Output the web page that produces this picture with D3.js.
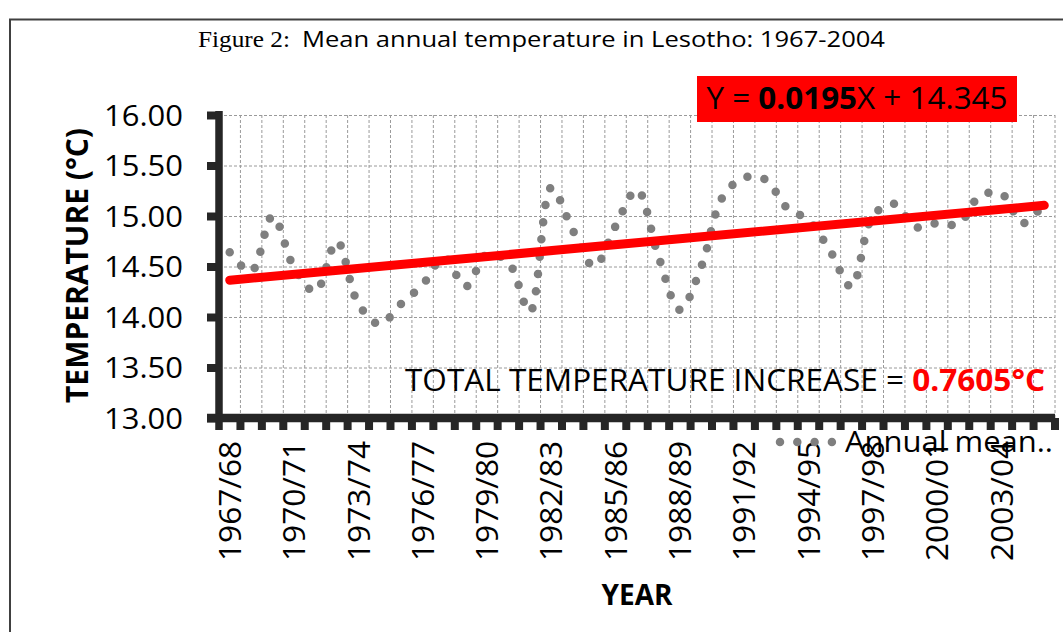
<!DOCTYPE html>
<html>
<head>
  <meta charset="utf-8">
  <title>Mean annual temperature in Lesotho</title>
  <script src="https://cdn.jsdelivr.net/npm/d3@7"></script>
  <style>
    body { margin: 0; background: #fff; }
    svg { display: block; }
  </style>
</head>
<body>
<script>
// size of the picture
var breite = 1063;
var hoehe = 632;

// seasons on the x axis (39 of them)
var years = ["1967/68", "1968/69", "1969/70", "1970/71", "1971/72", "1972/73", "1973/74",
             "1974/75", "1975/76", "1976/77", "1977/78", "1978/79", "1979/80", "1980/81",
             "1981/82", "1982/83", "1983/84", "1984/85", "1985/86", "1986/87", "1987/88",
             "1988/89", "1989/90", "1990/91", "1991/92", "1992/93", "1993/94", "1994/95",
             "1995/96", "1996/97", "1997/98", "1998/99", "1999/00", "2000/01", "2001/02",
             "2002/03", "2003/04", "2004/05", "2005/06"];

// annual mean temperature (°C)
var annualMean = [14.64, 14.45, 15.00, 14.49, 14.25, 14.75, 14.13, 13.93, 14.13, 14.32,
                  14.59, 14.30, 14.62, 14.54, 14.05, 15.28, 14.86, 14.50, 14.90, 15.26,
                  14.60, 14.07, 14.50, 15.19, 15.38, 15.36, 15.08, 14.96, 14.66, 14.30,
                  15.00, 15.12, 14.89, 14.93, 14.92, 15.20, 15.22, 14.93, 15.13];

// only every third season gets a label
var tickLabels = ["1967/68", "1970/71", "1973/74", "1976/77", "1979/80", "1982/83", "1985/86",
                  "1988/89", "1991/92", "1994/95", "1997/98", "2000/01", "2003/04"];

var yTicks = [13, 13.5, 14, 14.5, 15, 15.5, 16];

// linear trend Y = 0.0195X + 14.345 (X = 1 .. 39)
var slope = 0.0195;
var intercept = 14.345;

var sans = "'Open Sans', Lato, sans-serif";
var axisColor = "#262626";

var svg = d3.select("body")
            .append("svg")
            .attr("width", breite)
            .attr("height", hoehe);

// frame around the figure
svg.append("path")
   .attr("d", "M10," + hoehe + "V19.5H" + breite)
   .attr("fill", "none")
   .attr("stroke", "#404040")
   .attr("stroke-width", 2);

// scales
var x = d3.scaleBand().domain(years).range([219, 1055]);
var y = d3.scaleLinear().domain([13, 16]).range([418, 115]);
var mitte = function(d) { return x(d) + x.bandwidth() / 2; };

// dashed grid
var grid = svg.append("g")
              .attr("stroke", "#9a9a9a")
              .attr("stroke-width", 1)
              .attr("stroke-dasharray", "3,2");

grid.selectAll(".h")
    .data(yTicks.slice(1))
    .enter().append("line")
    .attr("x1", x.range()[0]).attr("x2", x.range()[1])
    .attr("y1", function(d) { return y(d) + 0.5; })
    .attr("y2", function(d) { return y(d) + 0.5; });

grid.selectAll(".v")
    .data(years)
    .enter().append("line")
    .attr("x1", function(d) { return x(d) + x.step(); })
    .attr("x2", function(d) { return x(d) + x.step(); })
    .attr("y1", y(16)).attr("y2", y(13));

// the annual mean series: smoothed line drawn as round dots
var line = d3.line()
             .x(function(d, i) { return mitte(years[i]); })
             .y(function(d) { return y(d); })
             .curve(d3.curveCatmullRom.alpha(0.5));

svg.append("path")
   .attr("d", line(annualMean))
   .attr("fill", "none")
   .attr("stroke", "#7f7f7f")
   .attr("stroke-width", 8.5)
   .attr("stroke-linecap", "round")
   .attr("stroke-dasharray", "0 17.3");

// trend line
var n = years.length;
svg.append("line")
   .attr("x1", mitte(years[0]))
   .attr("y1", y(slope * 1 + intercept))
   .attr("x2", mitte(years[n - 1]))
   .attr("y2", y(slope * n + intercept))
   .attr("stroke", "#ff0000")
   .attr("stroke-width", 9)
   .attr("stroke-linecap", "round");

// y axis with labels
var yAxis = svg.append("g")
   .attr("transform", "translate(219,0)")
   .call(d3.axisLeft(y).tickValues(yTicks).tickSize(12).tickSizeOuter(0)
           .tickPadding(24).tickFormat(d3.format(".2f")));
yAxis.select(".domain").remove();
yAxis.selectAll(".tick line").attr("stroke", axisColor).attr("stroke-width", 8);
yAxis.selectAll(".tick text")
     .attr("fill", "#000")
     .style("font-family", sans)
     .style("font-size", "29px")
     .attr("dy", "0.36em")
     .attr("textLength", 79)
     .attr("lengthAdjust", "spacingAndGlyphs");

svg.append("line")
   .attr("x1", 219).attr("x2", 219)
   .attr("y1", 111).attr("y2", 430)
   .attr("stroke", axisColor).attr("stroke-width", 7.5);

// x axis: thick line, tick marks between the seasons, rotated labels
svg.append("line")
   .attr("x1", 207).attr("x2", 1055)
   .attr("y1", 418).attr("y2", 418)
   .attr("stroke", axisColor).attr("stroke-width", 8.5);

svg.selectAll(".xtick")
   .data(years)
   .enter().append("line")
   .attr("x1", function(d) { return x(d) + x.step(); })
   .attr("x2", function(d) { return x(d) + x.step(); })
   .attr("y1", 418).attr("y2", 430)
   .attr("stroke", axisColor).attr("stroke-width", 8);

var xAxis = svg.append("g")
   .attr("transform", "translate(0,441)")
   .call(d3.axisBottom(x).tickValues(tickLabels).tickSize(0).tickPadding(0));
xAxis.select(".domain").remove();
xAxis.selectAll(".tick text")
     .attr("fill", "#000")
     .style("font-family", sans)
     .style("font-size", "31px")
     .attr("text-anchor", "end")
     .attr("transform", "rotate(-90)")
     .attr("x", 0).attr("y", 0)
     .attr("dy", "0.36em")
     .attr("textLength", 120)
     .attr("lengthAdjust", "spacingAndGlyphs");

// axis titles
svg.append("text")
   .attr("transform", "translate(88,265.5) rotate(-90)")
   .attr("text-anchor", "middle")
   .attr("textLength", 275)
   .attr("lengthAdjust", "spacingAndGlyphs")
   .style("font-family", sans)
   .style("font-size", "31px")
   .style("font-weight", "bold")
   .text("TEMPERATURE (°C)");

svg.append("text")
   .attr("x", 637).attr("y", 605)
   .attr("text-anchor", "middle")
   .style("font-family", sans)
   .style("font-size", "28px")
   .style("font-weight", "bold")
   .text("YEAR");

// figure title
svg.append("text")
   .attr("x", 198).attr("y", 47)
   .attr("textLength", 92)
   .attr("lengthAdjust", "spacingAndGlyphs")
   .style("font-family", "'Liberation Serif', serif")
   .style("font-size", "23px")
   .text("Figure 2:");

svg.append("text")
   .attr("x", 302).attr("y", 47)
   .attr("textLength", 583)
   .attr("lengthAdjust", "spacingAndGlyphs")
   .style("font-family", sans)
   .style("font-size", "21px")
   .text("Mean annual temperature in Lesotho: 1967-2004");

// equation in a red box
svg.append("rect")
   .attr("x", 697).attr("y", 76)
   .attr("width", 320).attr("height", 46)
   .attr("fill", "#ff0000");

var gleichung = svg.append("text")
   .attr("x", 857).attr("y", 109)
   .attr("text-anchor", "middle")
   .attr("textLength", 301)
   .attr("lengthAdjust", "spacingAndGlyphs")
   .style("font-family", sans)
   .style("font-size", "31px");
gleichung.append("tspan").text("Y = ");
gleichung.append("tspan").style("font-weight", "bold").text(slope.toFixed(4));
gleichung.append("tspan").text("X + " + intercept.toFixed(3));

// total increase over the period
var total = svg.append("text")
   .attr("x", 405).attr("y", 391)
   .attr("textLength", 640)
   .attr("lengthAdjust", "spacingAndGlyphs")
   .style("font-family", sans)
   .style("font-size", "31px");
total.append("tspan").text("TOTAL TEMPERATURE  INCREASE = ");
total.append("tspan")
     .attr("fill", "#ff0000")
     .style("font-weight", "bold")
     .text((slope * n).toFixed(4) + "°C");

// legend
svg.append("path")
   .attr("d", "M780,442H832")
   .attr("stroke", "#7f7f7f")
   .attr("stroke-width", 8.5)
   .attr("stroke-linecap", "round")
   .attr("stroke-dasharray", "0 17.3");

svg.append("text")
   .attr("x", 845).attr("y", 452)
   .attr("textLength", 208)
   .attr("lengthAdjust", "spacingAndGlyphs")
   .style("font-family", sans)
   .style("font-size", "30px")
   .text("Annual mean..");
</script>
</body>
</html>
